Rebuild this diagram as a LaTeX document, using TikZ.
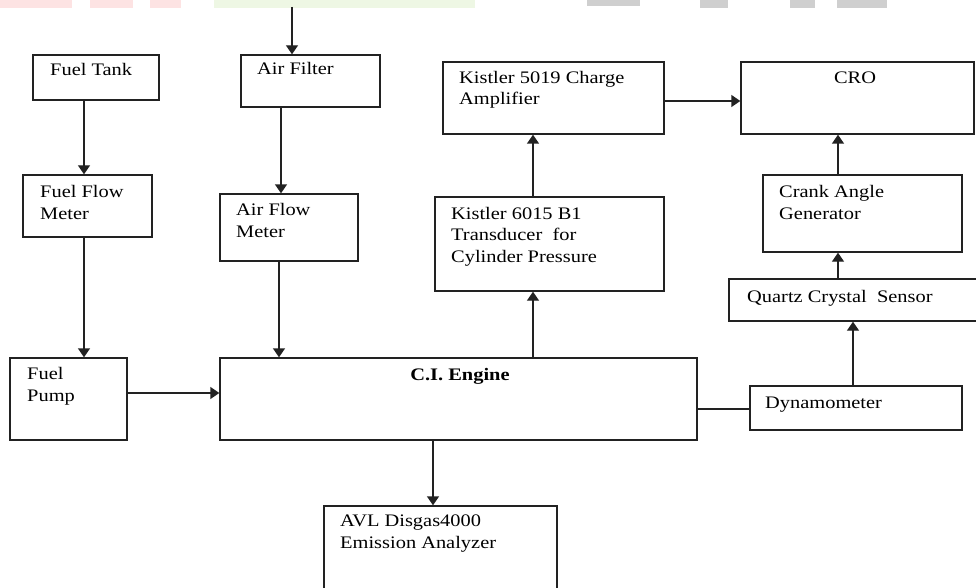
\documentclass[tikz,border=0pt]{standalone}
\usepackage{fontspec}
\setmainfont{Liberation Serif}[FakeStretch=1.16]
\usetikzlibrary{arrows.meta}
\definecolor{lncol}{HTML}{222222}
\definecolor{wmpink}{HTML}{FDE3E3}
\definecolor{wmgreen}{HTML}{EEF7E4}
\definecolor{wmgrey}{HTML}{CFCFCF}
\tikzset{
  blk/.style={draw=lncol, line width=1.4pt, inner sep=0pt, rectangle},
  lbl/.style={anchor=base west, inner sep=0pt, align=left, text=black,
    font=\fontsize{17.6}{21.5}\selectfont},
  arr/.style={draw=lncol, line width=1.4pt, -{Triangle[length=9pt,width=12pt]}},
  ln/.style={draw=lncol, line width=1.4pt}
}
\newcommand\mkbox[5]{\node[blk, minimum width={(#4-#2)*1pt}, minimum height={(#5-#3)*1pt}] (#1) at ({(#2+#4)/2},{(#3+#5)/2}) {};}
\begin{document}
\begin{tikzpicture}[x=1pt,y=-1pt]
\useasboundingbox (0,0) rectangle (976,588);
% watermark remnants
\fill[wmpink] (0,0) rectangle (72,8);
\fill[wmpink] (90,0) rectangle (133,8);
\fill[wmpink] (150,0) rectangle (181,8);
\fill[wmgreen] (214,0) rectangle (475,8);
\fill[wmgrey] (587,0) rectangle (640,6);
\fill[wmgrey] (700,0) rectangle (728,8);
\fill[wmgrey] (790,0) rectangle (815,8);
\fill[wmgrey] (837,0) rectangle (887,8);
% boxes
\mkbox{ft}{33}{55}{159}{100}
\mkbox{ffm}{23}{175}{152}{237}
\mkbox{fp}{10}{358}{127}{440}
\mkbox{af}{241}{55}{380}{107}
\mkbox{afm}{220}{194}{358}{261}
\mkbox{eng}{220}{358}{697}{440}
\mkbox{kamp}{443}{62}{664}{134}
\mkbox{cro}{741}{62}{974}{134}
\mkbox{ktr}{435}{197}{664}{291}
\mkbox{crank}{763}{175}{962}{252}
\mkbox{quartz}{729}{279}{990}{321}
\mkbox{dyn}{750}{386}{962}{430}
\mkbox{avl}{324}{506}{557}{610}
% labels (anchor = baseline of last line)
\node[lbl] (tft) at (50,76) {Fuel Tank};
\node[lbl] (tffm) at (40,219) {Fuel Flow\\Meter};
\node[lbl] (tfp) at (27,401) {Fuel\\Pump};
\node[lbl] (taf) at (257,75) {Air Filter};
\node[lbl] (tafm) at (236,237) {Air Flow\\Meter};
\node[lbl] (tkamp) at (459,105) {Kistler 5019 Charge\\Amplifier};
\node[lbl, anchor=base] (tcro) at (855,84) {CRO};
\node[lbl] (tktr) at (451,262) {Kistler 6015 B1\\Transducer\ \ for\\Cylinder Pressure};
\node[lbl] (tcrank) at (779,219) {Crank Angle\\Generator};
\node[lbl] (tquartz) at (747,302) {Quartz Crystal\ \ Sensor};
\node[lbl] (tdyn) at (765,408) {Dynamometer};
\node[lbl, anchor=base, font=\fontsize{17.6}{21.5}\selectfont\bfseries] (teng) at (460,380) {C.I. Engine};
\node[lbl] (tavl) at (340,548) {AVL Disgas4000\\Emission Analyzer};
% connectors
\coordinate (airin) at (292,7);
\draw[arr] (airin) -- (af.north -| airin);
\draw[arr] (ft.south -| 84,0) -- (ffm.north -| 84,0);
\draw[arr] (ffm.south -| 84,0) -- (fp.north -| 84,0);
\draw[arr] (fp.east |- 0,393) -- (eng.west |- 0,393);
\draw[arr] (af.south -| 281,0) -- (afm.north -| 281,0);
\draw[arr] (afm.south -| 279,0) -- (eng.north -| 279,0);
\draw[arr] (eng.north -| 533,0) -- (ktr.south -| 533,0);
\draw[arr] (ktr.north -| 533,0) -- (kamp.south -| 533,0);
\draw[arr] (kamp.east |- 0,101) -- (cro.west |- 0,101);
\draw[arr] (crank.north -| 838,0) -- (cro.south -| 838,0);
\draw[arr] (quartz.north -| 838,0) -- (crank.south -| 838,0);
\draw[arr] (dyn.north -| 853,0) -- (quartz.south -| 853,0);
\draw[ln] (eng.east |- 0,409) -- (dyn.west |- 0,409);
\draw[arr] (eng.south -| 433,0) -- (avl.north -| 433,0);
\end{tikzpicture}
\end{document}
